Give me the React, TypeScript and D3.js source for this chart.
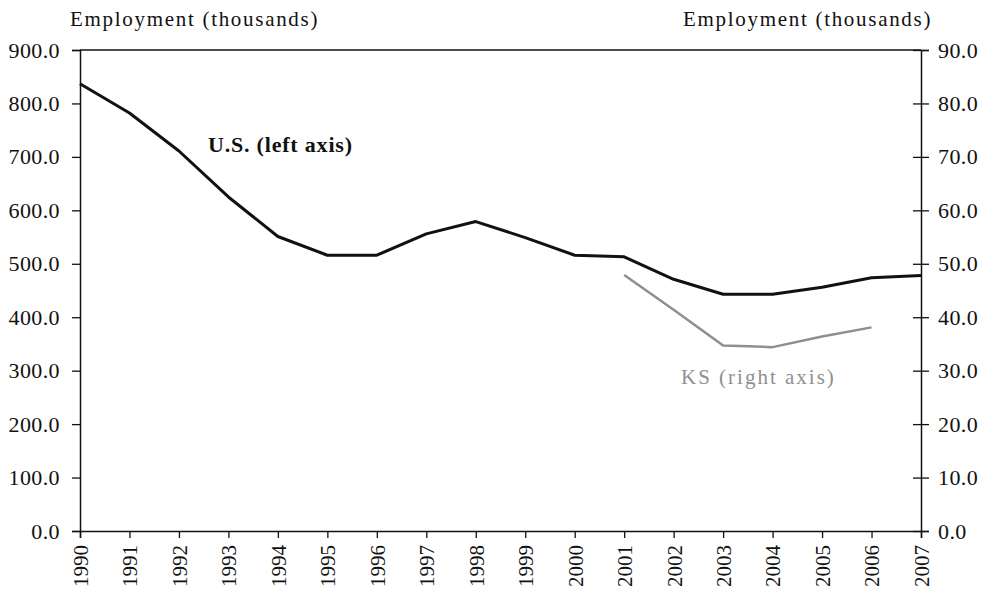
import { useEffect, useRef } from "react";
import * as d3 from "d3";

// values (thousands)
const years = [
  1990, 1991, 1992, 1993, 1994, 1995, 1996, 1997, 1998, 1999, 2000, 2001,
  2002, 2003, 2004, 2005, 2006, 2007,
];
const usEmployment = [
  837, 782, 711, 625, 551, 516, 516, 556, 579, 549, 516, 513, 471, 443, 443,
  456, 474, 478,
];
const ksYears = [2001, 2002, 2003, 2004, 2005, 2006];
const ksEmployment = [47.9, 41.4, 34.7, 34.4, 36.4, 38.1];
const leftTicks = [0, 100, 200, 300, 400, 500, 600, 700, 800, 900];
const rightTicks = [0, 10, 20, 30, 40, 50, 60, 70, 80, 90];

const FONT = "'Liberation Serif', 'Times New Roman', serif";

const App = () => {
  const svgRef = useRef<SVGSVGElement | null>(null);

  useEffect(() => {
    const width = 984;
    const height = 599;
    const margin = { top: 50, right: 63, bottom: 68, left: 80 };

    const svg = d3.select(svgRef.current);
    svg.selectAll("*").remove();
    svg.attr("width", width).attr("height", height);

    const x = d3
      .scaleLinear()
      .domain([1990, 2007])
      .range([margin.left, width - margin.right]);
    const yLeft = d3
      .scaleLinear()
      .domain([0, 900])
      .range([height - margin.bottom, margin.top]);
    const yRight = d3
      .scaleLinear()
      .domain([0, 90])
      .range([height - margin.bottom, margin.top]);

    // top frame line
    svg
      .append("line")
      .attr("x1", x(1990))
      .attr("x2", x(2007))
      .attr("y1", margin.top)
      .attr("y2", margin.top)
      .attr("stroke", "#111")
      .attr("stroke-width", 1.5);

    // left axis
    const gl = svg
      .append("g")
      .attr("transform", `translate(${margin.left},0)`)
      .call(
        d3
          .axisLeft(yLeft)
          .tickValues(leftTicks)
          .tickSize(8)
          .tickPadding(12)
          .tickFormat((d) => d3.format(".1f")(d as number))
      );
    gl.select(".domain").attr("stroke", "#111").attr("stroke-width", 1.5);
    gl.selectAll(".tick line").attr("stroke", "#111").attr("stroke-width", 1.3);
    gl.selectAll(".tick text")
      .attr("fill", "#111")
      .style("font-family", FONT)
      .style("font-size", "22px")
      .style("letter-spacing", "0.4px");

    // right axis, ticks cross the axis
    const gr = svg
      .append("g")
      .attr("transform", `translate(${x(2007)},0)`)
      .call(
        d3
          .axisRight(yRight)
          .tickValues(rightTicks)
          .tickSize(8)
          .tickPadding(9)
          .tickFormat((d) => d3.format(".1f")(d as number))
      );
    gr.select(".domain").attr("stroke", "#111").attr("stroke-width", 1.5);
    gr.selectAll(".tick line")
      .attr("x1", -8)
      .attr("stroke", "#111")
      .attr("stroke-width", 1.3);
    gr.selectAll(".tick text")
      .attr("fill", "#111")
      .style("font-family", FONT)
      .style("font-size", "22px")
      .style("letter-spacing", "0.4px");

    // bottom axis with rotated year labels
    const gb = svg
      .append("g")
      .attr("transform", `translate(0,${height - margin.bottom})`)
      .call(
        d3
          .axisBottom(x)
          .tickValues(years)
          .tickSize(7)
          .tickFormat((d) => String(d))
      );
    gb.select(".domain").attr("stroke", "#111").attr("stroke-width", 1.5);
    gb.selectAll(".tick line").attr("stroke", "#111").attr("stroke-width", 1.3);
    gb.selectAll(".tick text")
      .attr("fill", "#111")
      .attr("transform", "rotate(-90)")
      .attr("x", -14)
      .attr("y", 0)
      .attr("dy", "0.35em")
      .attr("text-anchor", "end")
      .style("font-family", FONT)
      .style("font-size", "21px");

    // US line
    const usLine = d3
      .line<number>()
      .x((_, i) => x(years[i]))
      .y((d) => yLeft(d));
    svg
      .append("path")
      .datum(usEmployment)
      .attr("d", usLine)
      .attr("fill", "none")
      .attr("stroke", "#111")
      .attr("stroke-width", 3)
      .attr("stroke-linejoin", "round");

    // KS line
    const ksLine = d3
      .line<number>()
      .x((_, i) => x(ksYears[i]))
      .y((d) => yRight(d));
    svg
      .append("path")
      .datum(ksEmployment)
      .attr("d", ksLine)
      .attr("fill", "none")
      .attr("stroke", "#8f8f8f")
      .attr("stroke-width", 2.5)
      .attr("stroke-linejoin", "round");

    // axis titles
    svg
      .append("text")
      .attr("x", 70)
      .attr("y", 26)
      .attr("fill", "#111")
      .style("font-family", FONT)
      .style("font-size", "21px")
      .style("letter-spacing", "1.7px")
      .text("Employment (thousands)");
    svg
      .append("text")
      .attr("x", 683)
      .attr("y", 26)
      .attr("fill", "#111")
      .style("font-family", FONT)
      .style("font-size", "21px")
      .style("letter-spacing", "1.7px")
      .text("Employment (thousands)");

    // series labels
    svg
      .append("text")
      .attr("x", 208)
      .attr("y", 152)
      .attr("fill", "#111")
      .style("font-family", FONT)
      .style("font-size", "22px")
      .style("font-weight", "bold")
      .style("letter-spacing", "0.8px")
      .text("U.S. (left axis)");
    svg
      .append("text")
      .attr("x", 681)
      .attr("y", 384)
      .attr("fill", "#8f8f8f")
      .style("font-family", FONT)
      .style("font-size", "21px")
      .style("letter-spacing", "2px")
      .text("KS (right axis)");
  }, []);

  return (
    <svg
      ref={svgRef}
      style={{ position: "absolute", left: 0, top: 0, background: "#fff" }}
    ></svg>
  );
};

export default App;
